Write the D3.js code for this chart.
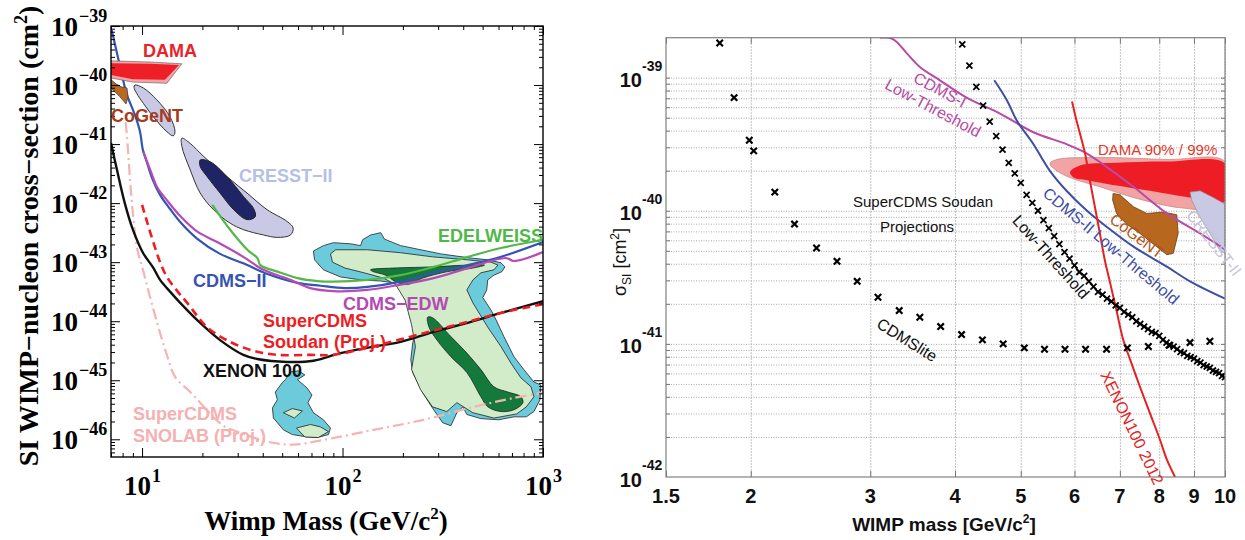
<!DOCTYPE html>
<html><head><meta charset="utf-8">
<script src="https://cdn.jsdelivr.net/npm/d3@7"></script>
<style>
html,body{margin:0;padding:0;background:#fff;}
svg{display:block;}
</style></head><body>
<svg id="chart" width="1245" height="540"></svg>
<script>
// ================= LEFT PANEL DATA : [WIMP mass (GeV/c^2), log10 sigma (cm^2)] =================
const leftXTickValues = [10, 100, 1000];
const leftXTickExponents = ["1", "2", "3"];
const leftYTickExponents = [-39, -40, -41, -42, -43, -44, -45, -46];

const xenon100 = [[7.0,-40.98],[7.5,-41.44],[8.2,-42.0],[9.0,-42.45],[10.1,-42.84],[11.4,-43.10],[12.3,-43.30],[13.8,-43.50],[15.5,-43.69],[19.5,-44.03],[24.5,-44.32],[32,-44.57],[37.6,-44.64],[53,-44.69],[71.6,-44.67],[97.7,-44.54],[143,-44.43],[195,-44.35],[285,-44.18],[437,-44.01],[617,-43.86],[1000,-43.66]];
const soudanProj = [[10,-42.03],[10.6,-42.32],[11.4,-42.67],[12.3,-43.0],[13.3,-43.25],[15.0,-43.49],[16.8,-43.69],[21.1,-44.10],[27.5,-44.35],[35.9,-44.50],[47.3,-44.57],[69,-44.57],[90,-44.57],[133,-44.45],[188,-44.32],[285,-44.16],[422,-44.01],[617,-43.86],[1000,-43.71]];
const snolabProj = [[8.29,-40.63],[8.51,-41.10],[8.71,-41.61],[9.02,-42.20],[9.44,-42.76],[10.1,-43.13],[10.96,-43.59],[12.3,-44.20],[13.3,-44.57],[14.6,-44.94],[17.4,-45.20],[19.5,-45.38],[22.6,-45.62],[26.0,-45.79],[30.9,-45.89],[42.2,-46.04],[56.9,-46.09],[80.4,-46.01],[143,-45.84],[254,-45.67],[452,-45.45],[692,-45.31],[1000,-45.21]];
const cdmsII = [[7.06,-39.07],[7.5,-39.46],[7.94,-39.83],[8.41,-40.17],[8.81,-40.34],[9.33,-40.56],[9.77,-40.79],[10.1,-41.10],[10.6,-41.32],[11.2,-41.57],[12.3,-41.86],[13.8,-42.10],[15.5,-42.32],[18.8,-42.60],[24.5,-42.86],[32,-43.02],[42.2,-43.20],[59.6,-43.35],[77.6,-43.40],[103,-43.44],[133,-43.42],[195,-43.33],[285,-43.18],[422,-43.05],[617,-42.91],[1000,-42.66]];
const cdmsEDW = [[10.15,-41.13],[11.0,-41.44],[11.9,-41.73],[13.3,-41.95],[15.5,-42.22],[18.8,-42.48],[23.7,-42.66],[32,-42.91],[40.3,-43.13],[55,-43.30],[69,-43.44],[90,-43.49],[133,-43.47],[195,-43.38],[285,-43.27],[422,-43.10],[653,-42.93],[716,-42.98],[1000,-42.83]];
const edelweiss = [[22.4,-42.03],[25.1,-42.27],[27.5,-42.45],[33.5,-42.79],[37.6,-42.93],[38.9,-43.05],[47.3,-43.16],[59.6,-43.27],[75,-43.32],[90,-43.33],[133,-43.30],[195,-43.22],[285,-43.08],[422,-42.91],[617,-42.76],[1000,-42.62]];

const damaOuterL = [[7.0,-39.59],[11,-39.61],[15.8,-39.64],[13.3,-39.97],[9.0,-39.95],[7.0,-39.88]];
const damaInnerL = [[7.0,-39.63],[11,-39.64],[15.3,-39.66],[13.0,-39.91],[9.0,-39.90],[7.0,-39.83]];
const cogentL = [[7.0,-39.91],[7.41,-39.98],[7.85,-40.03],[8.41,-40.05],[8.51,-40.20],[8.32,-40.32],[7.76,-40.20],[7.16,-40.08],[7.0,-40.05]];
const cresstUpper = [[9.2,-40.00],[10.15,-40.05],[11.85,-40.25],[13.8,-40.54],[14.6,-40.79],[14.3,-40.86],[13.3,-40.79],[11.4,-40.54],[10.15,-40.31],[9.4,-40.14],[9.12,-40.04]];
const cresstLower = [[15.8,-40.90],[17.4,-40.99],[20.3,-41.21],[26.5,-41.55],[33.4,-41.83],[42,-42.11],[52.9,-42.31],[56.7,-42.42],[55,-42.54],[47.2,-42.58],[40.4,-42.54],[32.1,-42.45],[27.5,-42.34],[22.7,-42.11],[19.5,-41.83],[17.4,-41.44],[15.8,-41.04]];
const cresstCore = [[19.5,-41.27],[21.9,-41.30],[26.5,-41.55],[32.1,-41.89],[36,-42.09],[36.7,-42.23],[33.4,-42.28],[28.6,-42.11],[24.5,-41.83],[21.1,-41.55],[19.5,-41.38]];

const susyOuter = [[71.6,-42.81],[80.3,-42.72],[90.1,-42.67],[110,-42.69],[123,-42.72],[125.9,-42.62],[138,-42.54],[155,-42.50],[162,-42.61],[195,-42.72],[309,-42.86],[437,-42.93],[530,-42.96],[617,-43.01],[646,-43.08],[624,-43.16],[569,-43.22],[530,-43.30],[524,-43.47],[501,-43.60],[550,-43.81],[584,-43.98],[638,-44.26],[716,-44.60],[803,-44.82],[901,-45.03],[977,-45.08],[966,-45.33],[901,-45.53],[826,-45.62],[716,-45.62],[600,-45.67],[490,-45.65],[417,-45.58],[398,-45.45],[372,-45.55],[347,-45.77],[316,-45.72],[281,-45.47],[251,-45.21],[224,-44.87],[219,-44.65],[224,-44.37],[231,-44.15],[221,-43.86],[210,-43.69],[195,-43.47],[180,-43.35],[155,-43.32],[123,-43.30],[97.7,-43.25],[80.3,-43.13],[72.5,-42.96]];
const susyMiddle = [[87.1,-42.86],[92.4,-42.79],[133,-42.79],[195,-42.84],[281,-42.91],[417,-42.96],[550,-43.00],[596,-43.05],[569,-43.13],[490,-43.18],[447,-43.30],[417,-43.47],[447,-43.69],[530,-44.10],[617,-44.43],[692,-44.71],[776,-44.96],[871,-45.11],[901,-45.28],[826,-45.45],[740,-45.57],[569,-45.64],[447,-45.55],[372,-45.38],[331,-45.53],[281,-45.45],[245,-45.16],[221,-44.82],[231,-44.43],[221,-44.06],[205,-43.64],[184,-43.38],[160,-43.27],[128,-43.18],[103,-43.10],[89.1,-43.00]];
const susyCoreUpper = [[138,-43.13],[178,-43.10],[281,-43.08],[417,-43.05],[511,-43.05],[447,-43.10],[334,-43.16],[251,-43.27],[210,-43.38],[184,-43.33],[164,-43.22],[142,-43.16]];
const susyCoreLower = [[266,-43.93],[281,-43.94],[347,-44.26],[417,-44.54],[490,-44.82],[569,-45.11],[668,-45.20],[776,-45.28],[794,-45.38],[716,-45.50],[617,-45.53],[530,-45.45],[490,-45.28],[417,-44.87],[347,-44.60],[296,-44.32],[270,-44.10]];
const smallOuter = [[55,-44.86],[60.3,-44.84],[64.9,-44.91],[59.6,-44.99],[66.5,-45.13],[70.4,-45.25],[67.2,-45.38],[71.6,-45.55],[80.3,-45.67],[87.1,-45.81],[85.1,-45.92],[74.9,-45.97],[66.5,-45.96],[56.2,-45.92],[50.7,-45.84],[45.2,-45.64],[44.7,-45.47],[47.3,-45.33],[46.2,-45.20],[50.1,-45.04],[51.9,-44.99]];
const smallInner1 = [[50.7,-45.55],[56.2,-45.48],[63.1,-45.52],[57.5,-45.64]];
const smallInner2 = [[58.9,-45.81],[69.2,-45.75],[77.6,-45.79],[85.1,-45.87],[75.7,-45.97],[64.9,-45.96]];

// ================= RIGHT PANEL DATA : [WIMP mass (GeV/c^2), log10 sigma (cm^2)] =================
const rightXTickValues = [1.5, 2, 3, 4, 5, 6, 7, 8, 9, 10];
const rightXTickLabels = ["1.5", "2", "3", "4", "5", "6", "7", "8", "9", "10"];
const rightYTickExponents = [-39, -40, -41, -42];

const cdmslite = [[1.80,-38.74],[1.89,-39.15],[1.99,-39.47],[2.02,-39.55],[2.17,-39.86],[2.32,-40.10],[2.50,-40.28],[2.68,-40.38],[2.87,-40.53],[3.08,-40.65],[3.31,-40.75],[3.55,-40.80],[3.81,-40.87],[4.09,-40.93],[4.39,-40.97],[4.71,-41.00],[5.06,-41.03],[5.42,-41.04],[5.81,-41.04],[6.23,-41.04],[6.69,-41.04],[7.18,-41.03],[7.71,-41.02],[8.27,-41.01],[8.88,-40.99],[9.50,-40.98]];
const lowThreshold = [[4.1,-38.75],[4.2,-38.91],[4.3,-39.07],[4.4,-39.21],[4.5,-39.33],[4.6,-39.44],[4.7,-39.54],[4.8,-39.64],[4.9,-39.72],[5.0,-39.79],[5.1,-39.88],[5.2,-39.94],[5.3,-40.00],[5.4,-40.07],[5.5,-40.13],[5.6,-40.19],[5.7,-40.25],[5.8,-40.31],[5.9,-40.36],[6.0,-40.41],[6.1,-40.46],[6.2,-40.49],[6.3,-40.53],[6.4,-40.57],[6.5,-40.61],[6.6,-40.63],[6.7,-40.66],[6.8,-40.68],[6.9,-40.71],[7.0,-40.73],[7.1,-40.76],[7.2,-40.78],[7.3,-40.80],[7.4,-40.83],[7.5,-40.85],[7.6,-40.87],[7.7,-40.89],[7.8,-40.91],[7.9,-40.92],[8.0,-40.94],[8.1,-40.97],[8.2,-40.99],[8.3,-41.01],[8.4,-41.02],[8.5,-41.04],[8.6,-41.06],[8.7,-41.07],[8.8,-41.09],[8.9,-41.10],[9.0,-41.11],[9.1,-41.13],[9.2,-41.14],[9.3,-41.16],[9.4,-41.17],[9.5,-41.18],[9.6,-41.20],[9.7,-41.21],[9.8,-41.22],[9.9,-41.24],[10.0,-41.25]];
const xenon2012 = [[5.95,-39.18],[6.04,-39.32],[6.15,-39.47],[6.22,-39.57],[6.32,-39.77],[6.43,-39.97],[6.54,-40.17],[6.65,-40.37],[6.77,-40.54],[6.92,-40.75],[7.08,-40.97],[7.25,-41.12],[7.49,-41.32],[7.75,-41.52],[8.02,-41.72],[8.21,-41.87],[8.44,-42.0]];
const cdmsIILowThr = [[4.57,-39.02],[4.77,-39.17],[4.93,-39.32],[5.22,-39.50],[5.52,-39.70],[5.84,-39.85],[6.26,-40.00],[6.69,-40.12],[7.33,-40.27],[8.21,-40.42],[8.88,-40.53],[10.0,-40.66]];
const cdmsILowThr = [[3.10,-38.70],[3.24,-38.71],[3.40,-38.82],[3.55,-38.92],[3.80,-39.02],[4.16,-39.15],[4.66,-39.27],[5.22,-39.41],[5.84,-39.50],[6.26,-39.57],[6.69,-39.67],[7.33,-39.82],[8.21,-40.02],[9.19,-40.17],[10.0,-40.29]];
const dama99 = [[5.52,-39.645],[5.65,-39.615],[6.54,-39.60],[8.21,-39.615],[10.0,-39.63],[10.0,-39.97],[8.67,-39.98],[7.32,-39.90],[6.54,-39.82],[5.97,-39.76],[5.65,-39.70]];
const dama90 = [[5.91,-39.71],[6.11,-39.66],[6.92,-39.64],[8.21,-39.63],[10.0,-39.645],[10.0,-39.93],[8.88,-39.90],[7.75,-39.85],[6.92,-39.81],[6.26,-39.77],[5.98,-39.75]];
const cogentR = [[6.84,-39.87],[7.00,-39.88],[7.33,-39.97],[7.67,-40.02],[8.11,-40.01],[8.49,-40.03],[8.53,-40.17],[8.39,-40.32],[8.21,-40.33],[7.84,-40.25],[7.49,-40.17],[7.16,-40.10],[6.92,-40.02],[6.83,-39.92]];
const cresstR = [[8.88,-39.86],[9.19,-39.85],[9.61,-39.90],[10.0,-39.95],[10.0,-40.32],[9.83,-40.30],[9.50,-40.17],[9.19,-40.05],[8.93,-39.92]];

// ================= DRAWING =================
const SERIF = "'Liberation Serif','Times New Roman',serif";
const SANS = "'Liberation Sans',Arial,Helvetica,sans-serif";
const svg = d3.select('#chart');
svg.append('rect').attr('width',1245).attr('height',540).attr('fill','#fff');
const defs = svg.append('defs');

function region(g, pts, proj, fill, stroke, sw, curve) {
  return g.append('path')
    .attr('d', d3.line().x(d => proj(d)[0]).y(d => proj(d)[1]).curve(curve || d3.curveLinearClosed)(pts))
    .attr('fill', fill).attr('stroke', stroke || 'none').attr('stroke-width', sw || 0)
    .attr('stroke-linejoin', 'round');
}
function curveLine(g, pts, proj, color, sw, dash) {
  const p = g.append('path')
    .attr('d', d3.line().x(d => proj(d)[0]).y(d => proj(d)[1]).curve(d3.curveCatmullRom.alpha(0.5))(pts))
    .attr('fill', 'none').attr('stroke', color).attr('stroke-width', sw).attr('stroke-linejoin','round');
  if (dash) p.attr('stroke-dasharray', dash);
  return p;
}
function txt(g, s, x, y, o) {
  const t = g.append('text').attr('x', x).attr('y', y).text(s)
    .attr('font-family', o.family || SANS).attr('font-size', o.size).attr('fill', o.color || '#000')
    .attr('font-weight', o.weight || 'normal').attr('text-anchor', o.anchor || 'start');
  return t;
}
function rtxt(g, s, cx, cy, angle, o) {
  return g.append('text').attr('transform', `translate(${cx},${cy}) rotate(${angle})`)
    .attr('text-anchor', 'middle').attr('dominant-baseline', 'central').text(s)
    .attr('font-family', o.family || SANS).attr('font-size', o.size).attr('fill', o.color)
    .attr('font-weight', o.weight || 'normal');
}

// ---------- LEFT PANEL ----------
const L = {x0: 111, x1: 543, y0: 26, y1: 457};
const xL = d3.scaleLog().domain([7, 1000]).range([L.x0, L.x1]);
const yL = d3.scaleLog().domain([Math.pow(10, -46.3), 1e-39]).range([L.y1, L.y0]);
const pL = d => [xL(d[0]), yL(Math.pow(10, d[1]))];

defs.append('clipPath').attr('id', 'clipL').append('rect')
  .attr('x', L.x0).attr('y', L.y0).attr('width', L.x1 - L.x0).attr('height', L.y1 - L.y0);
const gL = svg.append('g').attr('clip-path', 'url(#clipL)');

// regions
region(gL, susyOuter, pL, '#6ccbdb', '#222', 0.8);
region(gL, susyMiddle, pL, '#d2ebc9', '#222', 0.8);
region(gL, susyCoreUpper, pL, '#137a3c', '#222', 0.8, d3.curveCatmullRomClosed);
region(gL, susyCoreLower, pL, '#137a3c', '#222', 0.8, d3.curveCatmullRomClosed);
region(gL, smallOuter, pL, '#6ccbdb', '#222', 0.8);
region(gL, smallInner1, pL, '#d2ebc9', '#222', 0.8);
region(gL, smallInner2, pL, '#d2ebc9', '#222', 0.8);
region(gL, cresstUpper, pL, '#c9c9e6', '#333', 1, d3.curveCatmullRomClosed);
region(gL, cresstLower, pL, '#c9c9e6', '#333', 1, d3.curveCatmullRomClosed);
region(gL, cresstCore, pL, '#1e2466', '#222', 1, d3.curveCatmullRomClosed);

// lines
curveLine(gL, snolabProj, pL, '#f6b3b3', 2.2, '11,4,2,4');
curveLine(gL, edelweiss, pL, '#52b848', 2.2);
curveLine(gL, cdmsII, pL, '#3454b4', 2.2);
curveLine(gL, cdmsEDW, pL, '#b64bb6', 2.2);
curveLine(gL, xenon100, pL, '#111', 2.4);
curveLine(gL, soudanProj, pL, '#ee1d24', 2.6, '8,5');

region(gL, damaOuterL, pL, '#f4a6aa', '#555', 0.6);
region(gL, damaInnerL, pL, '#ee1f26', 'none', 0);
region(gL, cogentL, pL, '#b86a22', '#444', 0.8);

// frame
svg.append('rect').attr('x', L.x0).attr('y', L.y0).attr('width', L.x1 - L.x0).attr('height', L.y1 - L.y0)
  .attr('fill', 'none').attr('stroke', '#000').attr('stroke-width', 1.4);

// ticks (inward) via d3 axes
const isPow10 = v => Math.abs(Math.log10(v) - Math.round(Math.log10(v))) < 1e-9;
const xMinorL = xL.ticks().filter(v => !isPow10(v));
const yAllL = yL.ticks();
const yMinorL = yAllL.filter(v => !isPow10(v));
const yMajorL = leftYTickExponents.map(e => Math.pow(10, e));
function axisG(axis, tr) {
  const g = svg.append('g').attr('transform', tr).call(axis);
  g.select('.domain').remove();
  g.selectAll('line').attr('stroke', '#000').attr('stroke-width', 1);
  return g;
}
axisG(d3.axisBottom(xL).tickValues(leftXTickValues).tickSizeInner(-9).tickSizeOuter(0).tickFormat(''), `translate(0,${L.y1})`);
axisG(d3.axisBottom(xL).tickValues(xMinorL).tickSizeInner(-4).tickSizeOuter(0).tickFormat(''), `translate(0,${L.y1})`);
axisG(d3.axisTop(xL).tickValues(leftXTickValues).tickSizeInner(-9).tickSizeOuter(0).tickFormat(''), `translate(0,${L.y0})`);
axisG(d3.axisTop(xL).tickValues(xMinorL).tickSizeInner(-4).tickSizeOuter(0).tickFormat(''), `translate(0,${L.y0})`);
axisG(d3.axisLeft(yL).tickValues(yMajorL).tickSizeInner(-9).tickSizeOuter(0).tickFormat(''), `translate(${L.x0},0)`);
axisG(d3.axisLeft(yL).tickValues(yMinorL).tickSizeInner(-4).tickSizeOuter(0).tickFormat(''), `translate(${L.x0},0)`);
axisG(d3.axisRight(yL).tickValues(yMajorL).tickSizeInner(-9).tickSizeOuter(0).tickFormat(''), `translate(${L.x1},0)`);
axisG(d3.axisRight(yL).tickValues(yMinorL).tickSizeInner(-4).tickSizeOuter(0).tickFormat(''), `translate(${L.x1},0)`);

// tick labels
leftYTickExponents.forEach(e => {
  const y = yL(Math.pow(10, e));
  txt(svg, '10', 78, y + 9.5, {family: SERIF, size: 27, weight: 'bold', anchor: 'end'});
  txt(svg, '\u2212' + Math.abs(e), 79, y - 4, {family: SERIF, size: 18, weight: 'bold'});
});
leftXTickValues.forEach((v, i) => {
  const x = xL(v);
  txt(svg, '10', x + 9, 495, {family: SERIF, size: 27, weight: 'bold', anchor: 'end'});
  txt(svg, leftXTickExponents[i], x + 10, 482, {family: SERIF, size: 18, weight: 'bold'});
});
// axis titles
const yt = svg.append('text').attr('transform', 'translate(38,236) rotate(-90)').attr('text-anchor', 'middle')
  .attr('font-family', SERIF).attr('font-size', 28).attr('font-weight', 'bold');
yt.append('tspan').text('SI WIMP\u2212nucleon cross\u2212section (cm');
yt.append('tspan').text('2').attr('font-size', 18).attr('dy', -11);
yt.append('tspan').text(')').attr('dy', 11);
const xt = svg.append('text').attr('x', 326).attr('y', 530).attr('text-anchor', 'middle')
  .attr('font-family', SERIF).attr('font-size', 27).attr('font-weight', 'bold');
xt.append('tspan').text('Wimp Mass (GeV/c');
xt.append('tspan').text('2').attr('font-size', 17).attr('dy', -11);
xt.append('tspan').text(')').attr('dy', 11);

// in-plot labels
const lb = {size: 18, weight: 'bold'};
txt(svg, 'DAMA', 143, 57, {...lb, color: '#e8232a'});
txt(svg, 'CoGeNT', 111, 122, {...lb, color: '#a63b20'});
txt(svg, 'CRESST\u2212II', 239, 182, {...lb, color: '#b3c1e6'});
txt(svg, 'EDELWEISS', 438, 242, {...lb, color: '#4fb947'});
txt(svg, 'CDMS\u2212II', 193, 287, {...lb, color: '#3553b2'});
txt(svg, 'CDMS\u2212EDW', 343, 310, {...lb, color: '#b449b4'});
txt(svg, 'SuperCDMS', 263, 327, {...lb, color: '#ee1d24'});
txt(svg, 'Soudan (Proj.)', 263, 348, {...lb, color: '#ee1d24'});
txt(svg, 'XENON 100', 203, 377, {...lb, color: '#111'});
txt(svg, 'SuperCDMS', 133, 420, {...lb, color: '#f5b0b0'});
txt(svg, 'SNOLAB (Proj.)', 133, 442, {...lb, color: '#f5b0b0'});

// ---------- RIGHT PANEL ----------
const R = {x0: 666, x1: 1225, y0: 37.7, y1: 477};
const xR = d3.scaleLog().domain([1.5, 10]).range([R.x0, R.x1]);
const yR = d3.scaleLog().domain([1e-42, Math.pow(10, -38.7)]).range([R.y1, R.y0]);
const pR = d => [xR(d[0]), yR(Math.pow(10, d[1]))];
defs.append('clipPath').attr('id', 'clipR').append('rect')
  .attr('x', R.x0).attr('y', R.y0).attr('width', R.x1 - R.x0).attr('height', R.y1 - R.y0);

// grid
const gridV = svg.append('g').attr('transform', `translate(0,${R.y1})`)
  .call(d3.axisBottom(xR).tickValues(rightXTickValues.slice(1)).tickSize(-(R.y1 - R.y0)).tickFormat(''));
gridV.select('.domain').remove();
gridV.selectAll('line').attr('stroke', '#c4c4c4').attr('stroke-width', 1).attr('stroke-dasharray', '2,1');
const gridH = svg.append('g').attr('transform', `translate(${R.x0},0)`)
  .call(d3.axisLeft(yR).tickValues(yR.ticks()).tickSize(-(R.x1 - R.x0)).tickFormat(''));
gridH.select('.domain').remove();
gridH.selectAll('line').attr('stroke', '#aaa').attr('stroke-width', 1).attr('stroke-dasharray', '1,1.5');

// small ticks
function axisR(axis, tr) {
  const g = svg.append('g').attr('transform', tr).call(axis);
  g.select('.domain').remove();
  g.selectAll('line').attr('stroke', '#777').attr('stroke-width', 1);
}
axisR(d3.axisBottom(xR).tickValues(rightXTickValues).tickSizeInner(-6).tickSizeOuter(0).tickFormat(''), `translate(0,${R.y1})`);
axisR(d3.axisTop(xR).tickValues(rightXTickValues).tickSizeInner(-6).tickSizeOuter(0).tickFormat(''), `translate(0,${R.y0})`);
axisR(d3.axisLeft(yR).tickValues(yR.ticks()).tickSizeInner(-4).tickSizeOuter(0).tickFormat(''), `translate(${R.x0},0)`);
axisR(d3.axisRight(yR).tickValues(yR.ticks()).tickSizeInner(-4).tickSizeOuter(0).tickFormat(''), `translate(${R.x1},0)`);

const gR = svg.append('g').attr('clip-path', 'url(#clipR)');
region(gR, dama99, pR, '#f2a3a3', '#b77', 0.6, d3.curveCatmullRomClosed);
region(gR, dama90, pR, '#ee1c24', 'none', 0, d3.curveCatmullRomClosed);
region(gR, cogentR, pR, '#b8671f', '#6b3a12', 0.8);
region(gR, cresstR, pR, '#c9c9e3', '#888', 0.6);
curveLine(gR, cdmsILowThr, pR, '#b84aa8', 2);
curveLine(gR, cdmsIILowThr, pR, '#3d4fa5', 2);
curveLine(gR, xenon2012, pR, '#e42222', 2);
curveLine(gR, lowThreshold.filter(d => d[0] >= 6.0), pR, '#000', 1.6);
const crossPath = s => `M${-s},${-s}L${s},${s}M${-s},${s}L${s},${-s}`;
gR.selectAll('.lt').data(lowThreshold).enter().append('path')
  .attr('transform', d => `translate(${pR(d)[0]},${pR(d)[1]})`).attr('d', crossPath(3))
  .attr('stroke', '#000').attr('stroke-width', 1.8).attr('fill', 'none');
gR.selectAll('.cl').data(cdmslite).enter().append('path')
  .attr('transform', d => `translate(${pR(d)[0]},${pR(d)[1]})`).attr('d', crossPath(3.2))
  .attr('stroke', '#000').attr('stroke-width', 2.2).attr('fill', 'none');

svg.append('rect').attr('x', R.x0).attr('y', R.y0).attr('width', R.x1 - R.x0).attr('height', R.y1 - R.y0)
  .attr('fill', 'none').attr('stroke', '#808080').attr('stroke-width', 1.2);

// tick labels
rightYTickExponents.forEach(e => {
  const y = yR(Math.pow(10, e));
  txt(svg, '10', 642, y + 9.5, {size: 20, weight: 'bold', anchor: 'end', color: '#111'});
  txt(svg, '-' + Math.abs(e), 642, y - 7, {size: 14, weight: 'bold', color: '#111'});
});
rightXTickValues.forEach((v, i) => {
  txt(svg, rightXTickLabels[i], xR(v), 503, {size: 20, weight: 'bold', anchor: 'middle', color: '#111'});
});
const xtR = svg.append('text').attr('x', 944).attr('y', 531).attr('text-anchor', 'middle')
  .attr('font-family', SANS).attr('font-size', 19).attr('font-weight', 'bold').attr('fill', '#111');
xtR.append('tspan').text('WIMP mass [GeV/c');
xtR.append('tspan').text('2').attr('font-size', 12).attr('dy', -8);
xtR.append('tspan').text(']').attr('dy', 8);
const ytR = svg.append('text').attr('transform', 'translate(626,262) rotate(-90)').attr('text-anchor', 'middle')
  .attr('font-family', SANS).attr('font-size', 18).attr('fill', '#111');
ytR.append('tspan').text('\u03c3');
ytR.append('tspan').text('SI').attr('font-size', 12).attr('dy', 5);
ytR.append('tspan').text(' [cm').attr('dy', -5);
ytR.append('tspan').text('2').attr('font-size', 12).attr('dy', -7);
ytR.append('tspan').text(']').attr('dy', 7);

// in-plot labels right
txt(svg, 'DAMA 90% / 99%', 1098, 155, {size: 15, color: '#e2392b'});
txt(svg, 'SuperCDMS Soudan', 923, 207, {size: 15, color: '#111', anchor: 'middle'});
txt(svg, 'Projections', 917, 232, {size: 15, color: '#111', anchor: 'middle'});
rtxt(svg, 'CDMS-I', 940, 90, 28, {size: 16, color: '#b84aa8'});
rtxt(svg, 'Low-Threshold', 933, 108, 28, {size: 16, color: '#b84aa8'});
rtxt(svg, 'CDMS-II Low-Threshold', 1111, 246, 40, {size: 16, color: '#3d4fa5'});
rtxt(svg, 'CoGeNT', 1137, 236, 37, {size: 16, color: '#b0561c'});
rtxt(svg, 'CRESST-II', 1214, 243, 52, {size: 16, color: '#c4c4dc'});
rtxt(svg, 'Low-Threshold', 1051, 257, 48, {size: 16, color: '#111'});
rtxt(svg, 'CDMSlite', 907, 340, 32, {size: 16, color: '#111'});
rtxt(svg, 'XENON100 2012', 1132, 428, 64, {size: 16, color: '#e42222'});
</script>
</body></html>
